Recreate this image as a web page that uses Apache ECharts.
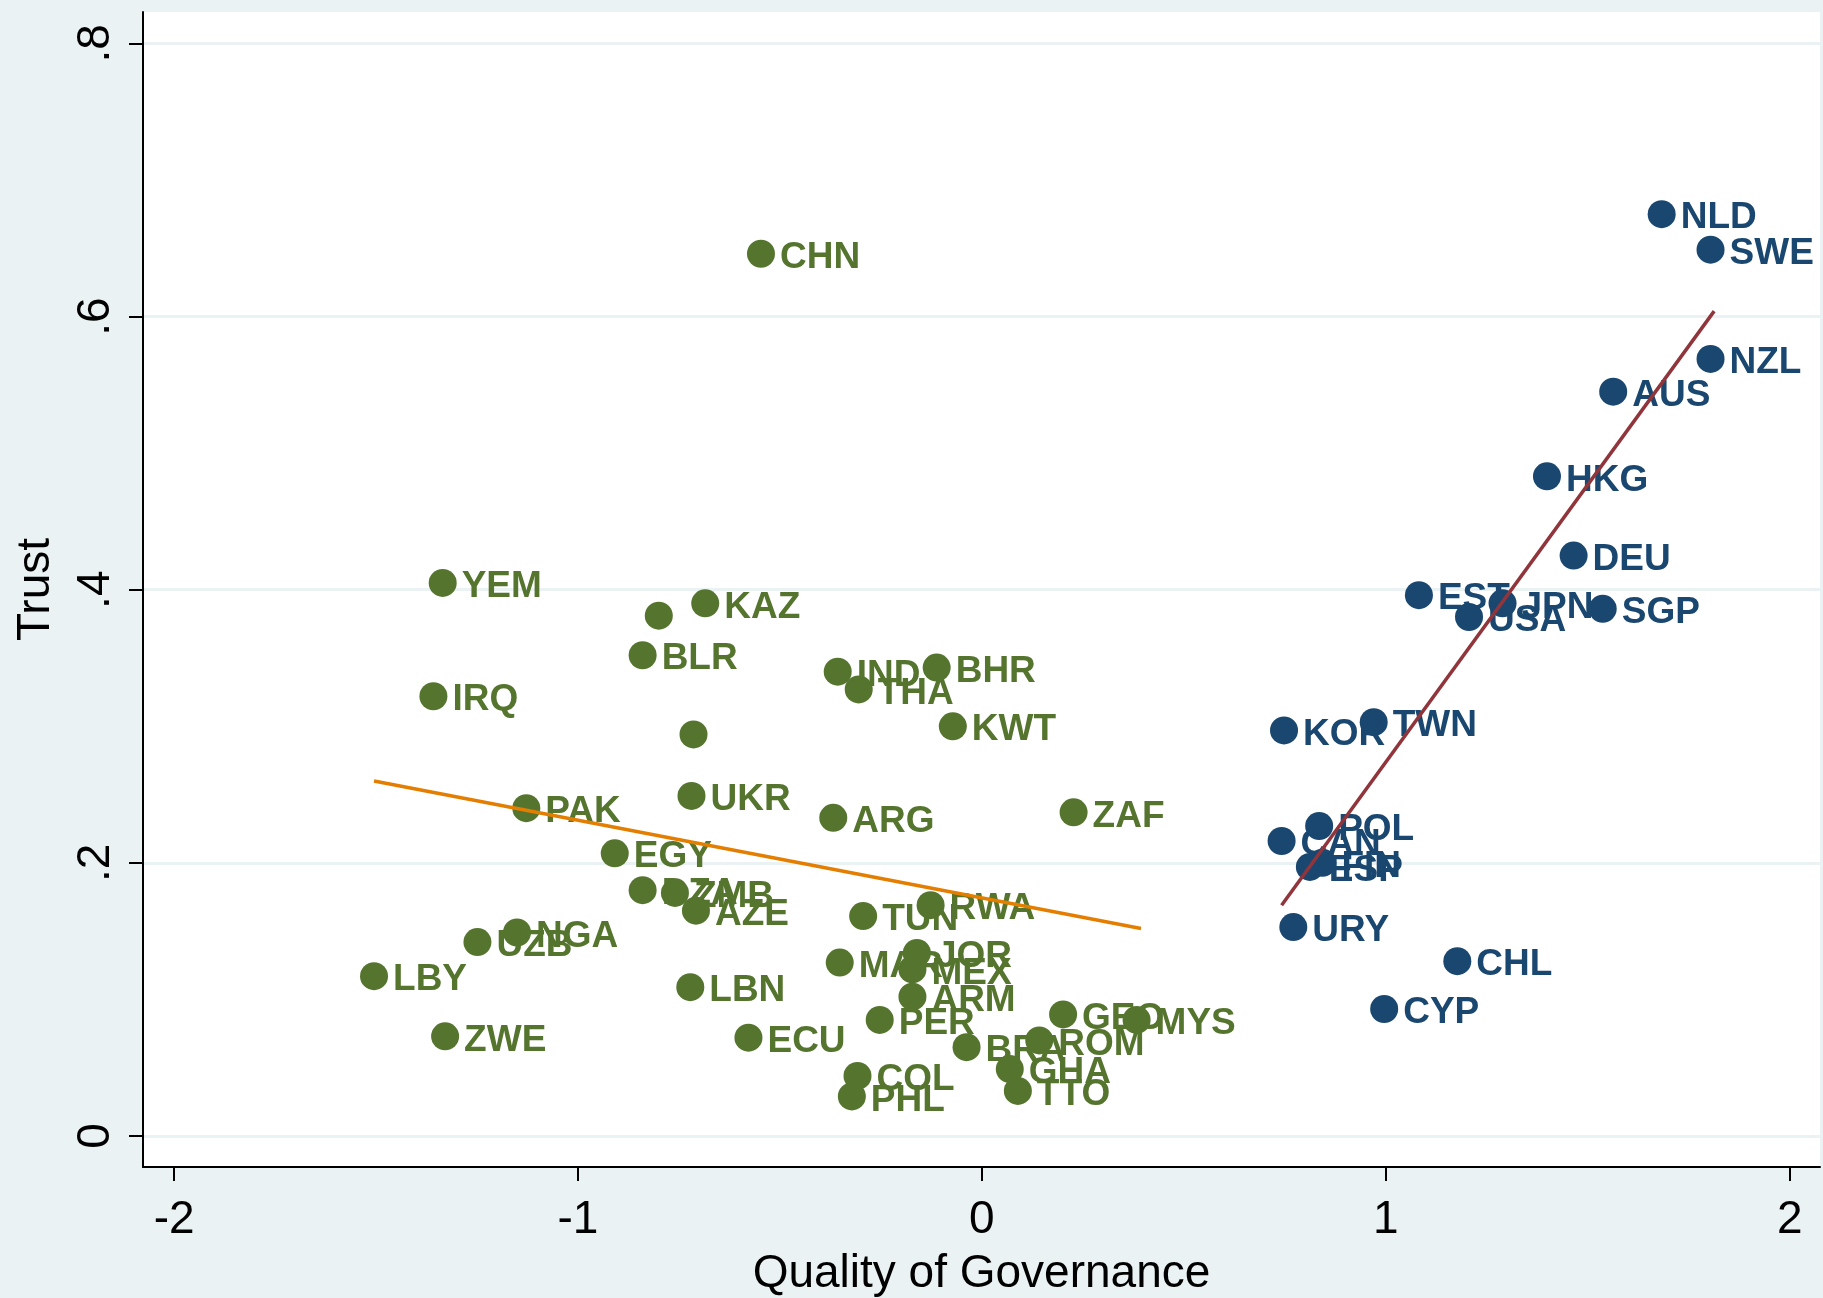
<!DOCTYPE html>
<html>
<head>
<meta charset="utf-8">
<script src="https://cdn.jsdelivr.net/npm/echarts@6/dist/echarts.min.js"></script>
<style>
html,body{margin:0;padding:0;background:#eaf2f3;}
#chart{width:1823px;height:1298px;}
</style>
</head>
<body>
<div id="chart"></div>
<script>
// Low quality-of-governance group (green)
const lowNames = ["CHN","YEM","KAZ","","BLR","IRQ","IND","BHR","THA","KWT","","UKR","ARG","ZAF","PAK","EGY","DZA","ZMB","AZE","TUN","RWA","NGA","UZB","LBY","ZWE","LBN","ECU","MAR","JOR","MEX","ARM","PER","COL","PHL","BRA","ROM","GEO","MYS","GHA","TTO"];
const lowQog = [-0.547,-1.335,-0.685,-0.800,-0.840,-1.358,-0.357,-0.112,-0.305,-0.072,-0.714,-0.719,-0.368,0.227,-1.128,-0.909,-0.840,-0.760,-0.708,-0.294,-0.127,-1.151,-1.249,-1.505,-1.329,-0.722,-0.578,-0.352,-0.161,-0.172,-0.172,-0.253,-0.308,-0.322,-0.038,0.142,0.201,0.383,0.069,0.089];
const lowTrust = [0.646,0.405,0.390,0.381,0.352,0.322,0.340,0.343,0.327,0.300,0.294,0.249,0.233,0.237,0.240,0.207,0.180,0.178,0.165,0.161,0.169,0.149,0.142,0.117,0.073,0.109,0.072,0.127,0.134,0.122,0.102,0.085,0.044,0.029,0.065,0.070,0.089,0.085,0.049,0.033];

// High quality-of-governance group (navy)
const highNames = ["NLD","SWE","NZL","AUS","HKG","DEU","EST","JPN","USA","SGP","KOR","TWN","POL","CAN","FIN","ESP","URY","CHL","CYP"];
const highQog = [1.683,1.804,1.804,1.563,1.399,1.465,1.082,1.289,1.206,1.537,0.748,0.970,0.835,0.742,0.843,0.812,0.771,1.177,0.996];
const highTrust = [0.675,0.649,0.569,0.545,0.483,0.425,0.396,0.390,0.380,0.386,0.297,0.303,0.227,0.216,0.200,0.197,0.153,0.128,0.093];

// Fitted lines (end points)
const fitLowX = [-1.505, 0.394];
const fitLowY = [0.260, 0.152];
const fitHighX = [0.742, 1.813];
const fitHighY = [0.169, 0.604];

// Ticks
const xTicks = [-2, -1, 0, 1, 2];
const yTicks = [0, 0.2, 0.4, 0.6, 0.8];
const yTickLabels = ["0", ".2", ".4", ".6", ".8"];

const GREEN = '#55752f';
const NAVY = '#1a476f';
const ORANGE = '#e37e00';
const MAROON = '#90353b';
const FONT = '"Liberation Sans", Arial, Helvetica, sans-serif';

function pts(xs, ys, names) {
  return xs.map((x, i) => ({ value: [x, ys[i]], name: names ? names[i] : '' }));
}

const chart = echarts.init(document.getElementById('chart'), null, { renderer: 'canvas' });

const labelStyle = (color) => ({
  show: true,
  position: 'right',
  distance: 5,
  offset: [0, 4],
  formatter: p => p.name,
  color: color,
  fontFamily: FONT,
  fontWeight: 'bold',
  fontSize: 37
});

chart.setOption({
  backgroundColor: '#eaf2f3',
  animation: false,
  grid: {
    left: 143, right: 3, top: 12, bottom: 131,
    containLabel: false,
    outerBoundsMode: 'none',
    show: true, backgroundColor: '#ffffff', borderWidth: 0
  },
  xAxis: {
    type: 'value',
    min: -2.077, max: 2.075,
    name: 'Quality of Governance',
    nameLocation: 'middle',
    nameGap: 84,
    nameTextStyle: { fontFamily: FONT, fontSize: 46, color: '#000' },
    axisLine: { show: true, onZero: false, lineStyle: { color: '#000', width: 2 } },
    axisTick: { show: true, length: 14, customValues: xTicks, lineStyle: { color: '#000', width: 2 } },
    axisLabel: { customValues: xTicks, margin: 30, fontFamily: FONT, fontSize: 46, color: '#000',
      formatter: v => String(v) },
    splitLine: { show: false }
  },
  yAxis: {
    type: 'value',
    min: -0.0227, max: 0.823,
    name: 'Trust',
    nameLocation: 'middle',
    nameRotate: 90,
    nameGap: 84,
    nameTextStyle: { fontFamily: FONT, fontSize: 46, color: '#000' },
    axisLine: { show: true, onZero: false, lineStyle: { color: '#000', width: 2 } },
    axisTick: { show: true, length: 14, customValues: yTicks, lineStyle: { color: '#000', width: 2 } },
    axisLabel: { customValues: yTicks, rotate: 90, margin: 24, fontFamily: FONT, fontSize: 46, color: '#000',
      formatter: v => { const i = yTicks.findIndex(t => Math.abs(t - v) < 1e-9); return i >= 0 ? yTickLabels[i] : ''; } },
    splitLine: { show: false }
  },
  series: [
    {
      name: 'grid', type: 'scatter', data: [], z: 0, silent: true,
      markLine: {
        z: 0,
        silent: true, symbol: ['none', 'none'], animation: false,
        label: { show: false },
        lineStyle: { color: '#eaf2f3', width: 3, type: 'solid' },
        data: yTicks.map(t => ({ yAxis: t }))
      }
    },
    {
      name: 'low', type: 'scatter', z: 3,
      symbol: 'circle', symbolSize: 28,
      itemStyle: { color: GREEN, opacity: 1 },
      label: labelStyle(GREEN),
      data: pts(lowQog, lowTrust, lowNames)
    },
    {
      name: 'high', type: 'scatter', z: 3,
      symbol: 'circle', symbolSize: 28,
      itemStyle: { color: NAVY, opacity: 1 },
      label: labelStyle(NAVY),
      data: pts(highQog, highTrust, highNames)
    },
    {
      name: 'fitLow', type: 'line', z: 5, showSymbol: false, symbol: 'none',
      lineStyle: { color: ORANGE, width: 3.5 },
      data: fitLowX.map((x, i) => [x, fitLowY[i]])
    },
    {
      name: 'fitHigh', type: 'line', z: 5, showSymbol: false, symbol: 'none',
      lineStyle: { color: MAROON, width: 3.5 },
      data: fitHighX.map((x, i) => [x, fitHighY[i]])
    }
  ]
});
</script>
</body>
</html>
